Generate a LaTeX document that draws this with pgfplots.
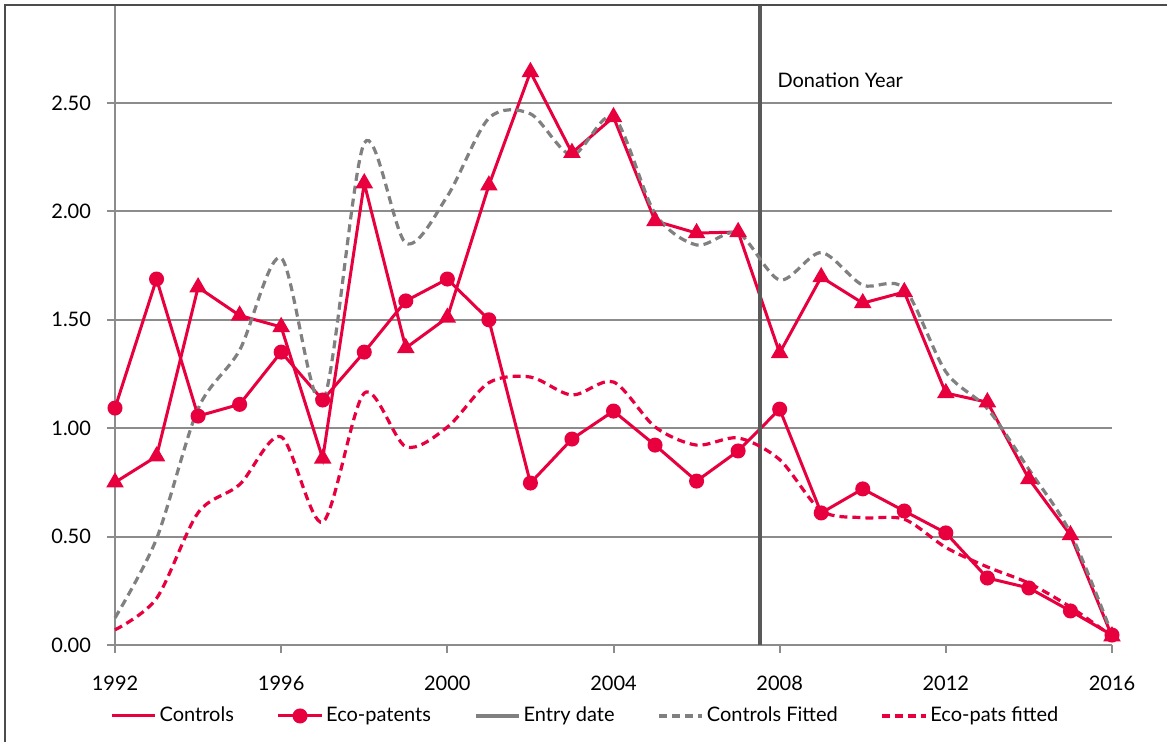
\documentclass[border=0pt]{standalone}
\usepackage{pgfplots}
\pgfplotsset{compat=1.18}
\usepackage{fontspec}
\setmainfont{Lato}
\definecolor{cred}{RGB}{232,0,62}
\definecolor{cgray}{RGB}{128,128,128}
\definecolor{gridgray}{RGB}{140,140,140}
\definecolor{entry}{RGB}{89,89,89}
\begin{document}
\begin{tikzpicture}
\begin{axis}[
  scale only axis, width=498.5pt, height=320pt,
  xmin=1992, xmax=2016, ymin=0, ymax=2.952,
  clip=false,
  axis lines=left, axis line style={-, draw=gridgray, line width=1pt},
  xtick={1992,1996,...,2016}, ytick={0,0.5,...,2.5},
  tick align=outside, major tick length=4pt,
  tick style={draw=gridgray, line width=1pt},
  ymajorgrids, grid style={draw=gridgray, line width=1pt},
  /pgf/number format/assume math mode=true,
  tick label style={font=\fontsize{10pt}{12pt}\selectfont},
  x tick label style={yshift=-8pt, /pgf/number format/1000 sep={}},
  y tick label style={xshift=-4.5pt, /pgf/number format/fixed, /pgf/number format/fixed zerofill, /pgf/number format/precision=2},
  legend columns=5,
  legend style={at={(-0.005,-0.1109)}, anchor=west, draw=none, fill=none, inner sep=0pt,
    font=\fontsize{10pt}{12pt}\selectfont,
    /tikz/every even column/.append style={column sep=20pt},
    nodes={inner sep=1.5pt}},
  legend image code/.code={\draw[mark repeat=2,mark phase=2,#1] plot coordinates {(0cm,0cm) (0.38cm,0cm) (0.76cm,0cm)};},
]
% Controls
\addplot[cred, line width=1.5pt, mark=triangle*, mark size=3.6pt, forget plot] coordinates {
(1992,0.75) (1993,0.87) (1994,1.65) (1995,1.52) (1996,1.467) (1997,0.86) (1998,2.13) (1999,1.37)
(2000,1.51) (2001,2.12) (2002,2.643) (2003,2.27) (2004,2.435) (2005,1.956) (2006,1.90) (2007,1.905)
(2008,1.347) (2009,1.697) (2010,1.577) (2011,1.628) (2012,1.162) (2013,1.12) (2014,0.766) (2015,0.507) (2016,0.04)};
% Eco-patents
\addplot[cred, line width=1.5pt, mark=*, mark size=3pt, forget plot] coordinates {
(1992,1.093) (1993,1.688) (1994,1.056) (1995,1.11) (1996,1.351) (1997,1.13) (1998,1.351) (1999,1.587)
(2000,1.688) (2001,1.50) (2002,0.747) (2003,0.95) (2004,1.079) (2005,0.922) (2006,0.756) (2007,0.895)
(2008,1.088) (2009,0.609) (2010,0.72) (2011,0.618) (2012,0.517) (2013,0.309) (2014,0.263) (2015,0.157) (2016,0.046)};
% Entry date
\addplot[entry, line width=1.75pt, forget plot] coordinates {(2007.53,0) (2007.53,2.952)};
% Controls fitted
\addplot[cgray, line width=1.6pt, dash pattern=on 4pt off 2.5pt, smooth, forget plot] coordinates {
(1992,0.125) (1993,0.49) (1994,1.09) (1995,1.36) (1996,1.785) (1997,1.12) (1998,2.315) (1999,1.854)
(2000,2.07) (2001,2.43) (2002,2.45) (2003,2.26) (2004,2.435) (2005,1.99) (2006,1.845) (2007,1.90)
(2008,1.684) (2009,1.81) (2010,1.66) (2011,1.645) (2012,1.26) (2013,1.09) (2014,0.81) (2015,0.517) (2016,0.05)};
% Eco-pats fitted
\addplot[cred, line width=1.6pt, dash pattern=on 4pt off 2.5pt, smooth, forget plot] coordinates {
(1992,0.07) (1993,0.215) (1994,0.61) (1995,0.74) (1996,0.96) (1997,0.567) (1998,1.162) (1999,0.915)
(2000,1.005) (2001,1.21) (2002,1.236) (2003,1.153) (2004,1.213) (2005,1.006) (2006,0.922) (2007,0.955)
(2008,0.855) (2009,0.62) (2010,0.587) (2011,0.58) (2012,0.45) (2013,0.36) (2014,0.285) (2015,0.175) (2016,0.04)};

\addlegendimage{cred, line width=1.5pt}
\addlegendentry{Controls}
\addlegendimage{cred, line width=1.5pt, mark=*, mark size=3pt}
\addlegendentry{Eco-patents}
\addlegendimage{cgray, line width=1.75pt}
\addlegendentry{Entry date}
\addlegendimage{cgray, line width=1.6pt, dash pattern=on 4pt off 2.5pt}
\addlegendentry{Controls Fitted}
\addlegendimage{cred, line width=1.6pt, dash pattern=on 4pt off 2.5pt}
\addlegendentry{Eco-pats fitted}

\node[anchor=west, inner sep=0pt, font=\fontsize{10pt}{12pt}\selectfont] at (axis cs:2007.94,2.606) {Donation Year};

\coordinate (bl) at (rel axis cs:-0.11535,-0.15156);
\coordinate (tr) at (rel axis cs:1.05517,1.00781);
\coordinate (fl) at (rel axis cs:-0.1103,-0.2);
\coordinate (ft) at (rel axis cs:-0.1103,1.0);
\coordinate (fr) at (rel axis cs:1.2,1.0);
\end{axis}
\draw[black!70, line width=1pt] (fl) -- (ft) -- (fr);
\pgfresetboundingbox
\path[use as bounding box] (bl) rectangle (tr);
\end{tikzpicture}
\end{document}
